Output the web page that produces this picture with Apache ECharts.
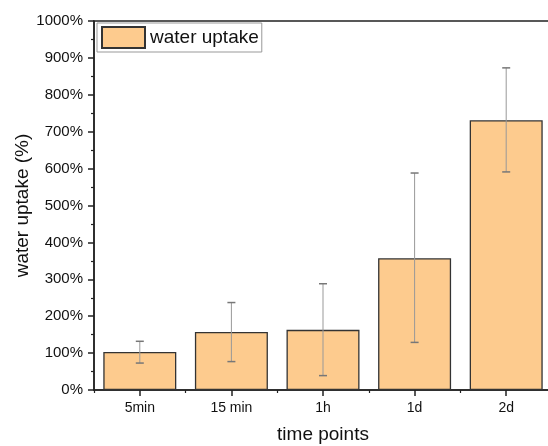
<!DOCTYPE html>
<html>
<head>
<meta charset="utf-8">
<script src="https://cdn.jsdelivr.net/npm/echarts@6/dist/echarts.min.js"></script>
<style>
html,body{margin:0;padding:0;background:#fff;}
#chart{width:548px;height:446px;}
</style>
</head>
<body>
<div id="chart"></div>
<script>
const categories = ['5min', '15 min', '1h', '1d', '2d'];
const uptake = [103, 157, 163, 357, 731];
const errUpper = [132, 237, 288, 588, 873];
const errLower = [73, 77, 39, 129, 591];
const yTicks = [0, 100, 200, 300, 400, 500, 600, 700, 800, 900, 1000];

const chart = echarts.init(document.getElementById('chart'));
const font = 'Liberation Sans, Arial, sans-serif';

const errData = categories.map((c, i) => [i, errLower[i], errUpper[i]]);

chart.setOption({
  animation: false,
  backgroundColor: '#fff',
  grid: {
    left: 94, width: 458, top: 21, height: 369,
    outerBoundsMode: 'none',
    containLabel: false,
    show: true, borderColor: '#222', borderWidth: 1.5, backgroundColor: 'transparent'
  },
  legend: {
    left: 97, top: 23,
    padding: [3, 3, 3, 4],
    borderColor: '#999', borderWidth: 1,
    backgroundColor: '#fff',
    itemWidth: 43, itemHeight: 21, itemGap: 5,
    textStyle: { fontFamily: font, fontSize: 19, color: '#111', padding: [0, 0, 0, 0] },
    data: [{ name: 'water uptake', icon: 'rect' }]
  },
  xAxis: [{
    type: 'category',
    data: categories,
    name: 'time points',
    nameLocation: 'middle',
    nameGap: 35,
    nameMoveOverlap: false,
    nameTextStyle: { fontFamily: font, fontSize: 19, color: '#111' },
    axisLine: { show: true, lineStyle: { color: '#222', width: 1.5 } },
    axisTick: { show: true, alignWithLabel: true, length: 6, lineStyle: { color: '#222', width: 1.5 } },
    axisLabel: { fontFamily: font, fontSize: 14, color: '#111', margin: 11 },
    splitLine: { show: false }
  }, {
    type: 'category',
    data: categories,
    position: 'bottom',
    axisLine: { show: false },
    axisTick: { show: true, length: 3, lineStyle: { color: '#222', width: 1.2 } },
    axisLabel: { show: false },
    splitLine: { show: false }
  }],
  yAxis: {
    type: 'value',
    min: 0, max: 1000, interval: 100,
    name: 'water uptake (%)',
    nameLocation: 'middle',
    nameGap: 62,
    nameMoveOverlap: false,
    nameTextStyle: { fontFamily: font, fontSize: 19, color: '#111' },
    axisLine: { show: true, lineStyle: { color: '#222', width: 1.5 } },
    axisTick: { show: true, length: 6, lineStyle: { color: '#222', width: 1.5 } },
    minorTick: { show: true, splitNumber: 2, length: 3, lineStyle: { color: '#222', width: 1.2 } },
    axisLabel: {
      fontFamily: font, fontSize: 15, color: '#111', margin: 11,
      formatter: v => yTicks.includes(v) ? v + '%' : ''
    },
    splitLine: { show: false }
  },
  series: [{
    name: 'water uptake',
    type: 'bar',
    data: uptake,
    barWidth: 73,
    itemStyle: { color: '#FDCB8E', borderColor: '#333', borderWidth: 1.3 },
    z: 2
  }, {
    name: 'error',
    type: 'custom',
    data: errData,
    z: 3,
    renderItem: function (params, api) {
      const x = api.value(0);
      const lo = api.coord([x, api.value(1)]);
      const hi = api.coord([x, api.value(2)]);
      const cap = 4;
      const style = { stroke: '#999', lineWidth: 1 };
      return {
        type: 'group',
        children: [
          { type: 'line', shape: { x1: hi[0], y1: hi[1], x2: lo[0], y2: lo[1] }, style },
          { type: 'line', shape: { x1: hi[0] - cap, y1: hi[1], x2: hi[0] + cap, y2: hi[1] }, style: { stroke: '#777', lineWidth: 1.5 } },
          { type: 'line', shape: { x1: lo[0] - cap, y1: lo[1], x2: lo[0] + cap, y2: lo[1] }, style: { stroke: '#777', lineWidth: 1.5 } }
        ]
      };
    }
  }]
});
</script>
</body>
</html>
